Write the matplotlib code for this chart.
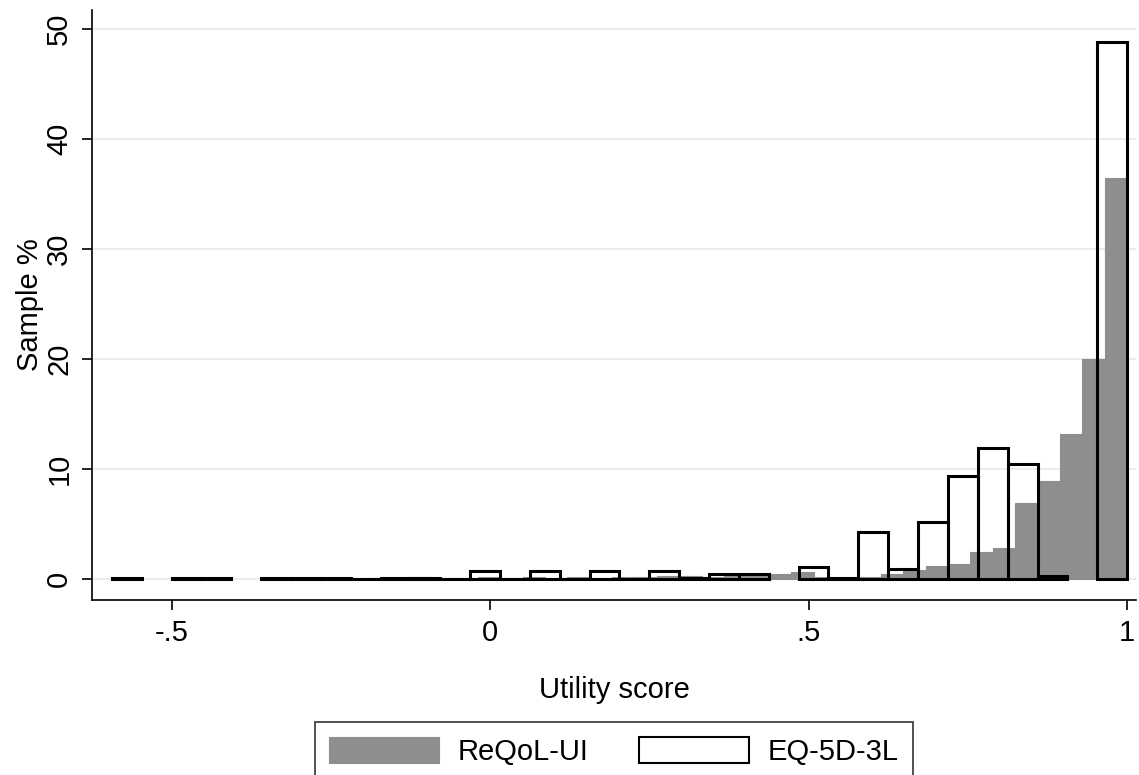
import matplotlib
matplotlib.use("Agg")
import matplotlib.pyplot as plt
import numpy as np

plt.rcParams['font.family'] = ['Liberation Sans', 'DejaVu Sans']

# ReQoL-UI histogram: 34 bins from -0.195 to 1 (percent of sample)
reqol_min, reqol_max = -0.195, 1.0
reqol_pct = [0.1, 0.1, 0.2, 0.1, 0.1, 0.2, 0.1, 0.2, 0.1, 0.2,
             0.1, 0.2, 0.2, 0.3, 0.3, 0.2, 0.3, 0.3, 0.5, 0.6,
             0.2, 0.1, 0.2, 0.5, 0.8, 1.2, 1.4, 2.5, 2.8, 6.9,
             8.9, 13.2, 20.0, 36.4]

# EQ-5D-3L histogram: 34 bins from -0.594 to 1 (percent of sample)
eq_min, eq_max = -0.594, 1.0
eq_pct = [0.1, 0.0, 0.1, 0.1, 0.0, 0.1, 0.1, 0.1, 0.03, 0.1,
          0.1, 0.05, 0.7, 0.03, 0.7, 0.03, 0.7, 0.03, 0.7, 0.1,
          0.5, 0.5, 0.0, 1.1, 0.1, 4.3, 0.9, 5.2, 9.4, 11.9,
          10.5, 0.3, 0.0, 48.8]

xticks = [-0.5, 0, 0.5, 1]
xtick_labels = ['-.5', '0', '.5', '1']
yticks = [0, 10, 20, 30, 40, 50]

gray = '#8e8e8e'
fs = 21

fig = plt.figure(figsize=(11.39, 7.75), dpi=100, facecolor='white')
ax = fig.add_axes([0.0808, 0.2258, 0.9166, 0.7612])

r_edges = np.linspace(reqol_min, reqol_max, len(reqol_pct) + 1)
r_w = r_edges[1] - r_edges[0]
r = np.array(reqol_pct)
keep = r > 0
ax.bar(r_edges[:-1][keep], r[keep], width=r_w, align='edge', color=gray,
       edgecolor=gray, linewidth=0.8, zorder=2, label='ReQoL-UI')

e_edges = np.linspace(eq_min, eq_max, len(eq_pct) + 1)
e_w = e_edges[1] - e_edges[0]
e = np.array(eq_pct)
keep = e > 0
ax.bar(e_edges[:-1][keep], e[keep], width=e_w, align='edge', fill=False,
       edgecolor='black', linewidth=2.2, zorder=3, label='EQ-5D-3L')

ax.set_xlim(-0.625, 1.014)
ax.set_ylim(-1.9, 51.7)
ax.set_xticks(xticks)
ax.set_xticklabels(xtick_labels)
ax.set_yticks(yticks)
ax.grid(axis='y', color='#ebebeb', linewidth=1.3, zorder=0)
ax.set_axisbelow(True)

for s in ['top', 'right']:
    ax.spines[s].set_visible(False)
for s in ['left', 'bottom']:
    ax.spines[s].set_linewidth(1.2)

ax.tick_params(axis='both', direction='out', length=7.5, width=1.2,
               labelsize=fs, colors='black')
ax.tick_params(axis='x', pad=6)
ax.tick_params(axis='y', pad=6)
for lbl in ax.get_yticklabels():
    lbl.set_rotation(90)
    lbl.set_va('center')

ax.set_xlabel('Utility score', fontsize=fs, labelpad=21)
ax.set_ylabel('Sample %', fontsize=fs, labelpad=1)

leg = ax.legend(loc='upper center', bbox_to_anchor=(614 / 1139, 1 - 722 / 775),
                bbox_transform=fig.transFigure, ncol=2, fontsize=fs,
                frameon=True, fancybox=False, edgecolor='black',
                handlelength=3.75, handleheight=1.0, handletextpad=0.65,
                columnspacing=1.75, borderpad=0.5, borderaxespad=0)
leg.get_frame().set_linewidth(1.2)
leg.legend_handles[1].set_linewidth(1.5)

fig.savefig('out.png', dpi=100, facecolor='white')
